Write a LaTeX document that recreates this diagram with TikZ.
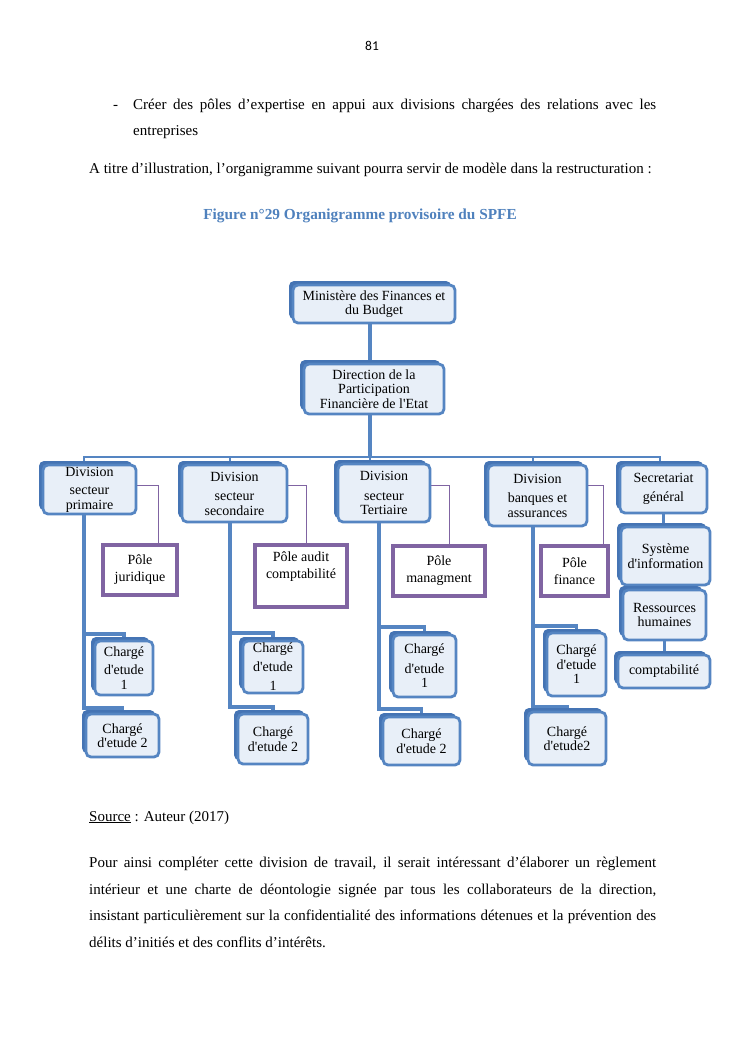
\documentclass[tikz,border=0pt]{standalone}
\usepackage{fontspec}
\setmainfont{Liberation Serif}
\newfontfamily\calibrifont{Carlito}
\usetikzlibrary{shadows,backgrounds}
\definecolor{bxblue}{HTML}{5585C2}
\definecolor{bxshadow}{HTML}{4574B4}
\definecolor{bxfill}{HTML}{E8EFF8}
\definecolor{plum}{HTML}{8064A2}
\definecolor{ttlblue}{HTML}{4F81BD}
\newcommand{\ap}{\textquotesingle}
\tikzset{
  bbox/.style={draw=bxblue, line width=2.8pt, fill=bxfill, rounded corners=5pt,
    align=center, inner sep=0pt, font=\fontsize{14}{14.5}\selectfont,
    drop shadow={shadow xshift=-4pt, shadow yshift=4pt, fill=bxshadow, opacity=1}},
  pbox/.style={draw=plum, line width=3.2pt, fill=white, align=center, inner sep=0pt,
    font=\fontsize{14}{17}\selectfont},
  conn/.style={draw=bxblue, line width=3.4pt},
  pconn/.style={draw=plum, line width=1pt},
  body/.style={font=\fontsize{15}{18}\selectfont, inner sep=0pt, anchor=base west},
}
\begin{document}
\begin{tikzpicture}[x=1pt,y=-1pt]
\useasboundingbox (0,0) rectangle (745,1053);
\begin{scope}[on background layer]
  \fill[white] (0,0) rectangle (745,1053);
\end{scope}

% page text
\node[inner sep=0pt, anchor=base, font=\calibrifont\fontsize{13.5}{16}\selectfont] (pnum) at (372,50) {81};
\node[body] (dash) at (113,109) {-};
\node[body] (l1) at (133,109) {\makebox[523pt][s]{Créer des pôles d’expertise en appui aux divisions chargées des relations avec les}};
\node[body] (l2) at (133,135) {entreprises};
\node[body] (l3) at (89,173) {A titre d’illustration, l’organigramme suivant pourra servir de modèle dans la restructuration :};
\node[inner sep=0pt, anchor=base, text=ttlblue, font=\bfseries\fontsize{15.3}{18}\selectfont] (title) at (360,219) {Figure n°29 Organigramme provisoire du SPFE};

\node[body] (src) at (89,821) {\underline{Source} : Auteur (2017)};
\node[body] (p1) at (89,867) {\makebox[567pt][s]{Pour ainsi compléter cette division de travail, il serait intéressant d’élaborer un règlement}};
\node[body] (p2) at (89,894) {\makebox[567pt][s]{intérieur et une charte de déontologie signée par tous les collaborateurs de la direction,}};
\node[body] (p3) at (89,920) {\makebox[567pt][s]{insistant particulièrement sur la confidentialité des informations détenues et la prévention des}};
\node[body] (p4) at (89,947) {délits d’initiés et des conflits d’intérêts.};

% top boxes
\node[bbox, minimum width=162pt, minimum height=38pt] (mini) at (374,304) {Ministère des Finances et\\du Budget};
\node[bbox, minimum width=140pt, minimum height=50pt] (dir) at (374,389) {Direction de la\\Participation\\Financière de l\ap Etat};

% divisions
\node[bbox, minimum width=93pt, minimum height=49pt] (divP) at (89.5,489.5) {Division\\[4pt]secteur\\primaire};
\node[bbox, minimum width=105pt, minimum height=57pt] (divS) at (234.5,493.5) {Division\\[5pt]secteur\\secondaire};
\node[bbox, minimum width=92pt, minimum height=58pt] (divT) at (384,493) {Division\\[5pt]secteur\\Tertiaire};
\node[bbox, minimum width=99pt, minimum height=61pt] (divB) at (537.5,495.5) {Division\\[5pt]banques et\\assurances};
\node[bbox, minimum width=87pt, minimum height=48pt] (sec) at (663.5,489) {Secretariat\\[5pt]général};

% right column
\node[bbox, minimum width=89pt, minimum height=58pt] (sys) at (665.5,556) {Système\\d\ap information};
\node[bbox, minimum width=83pt, minimum height=50pt] (rh) at (664.5,615) {Ressources\\humaines};
\node[bbox, minimum width=92pt, minimum height=33pt] (cpt) at (664,671.5) {comptabilité};

% poles
\node[pbox, minimum width=74pt, minimum height=50pt] (poleJ) at (140,570) {Pôle\\juridique};
\node[pbox, minimum width=92pt, minimum height=62pt] (poleA) at (301,576) {Pôle audit\\comptabilité\\\strut};
\node[pbox, minimum width=92pt, minimum height=50pt] (poleM) at (439,571) {Pôle\\managment};
\node[pbox, minimum width=67pt, minimum height=50pt] (poleF) at (574.5,571) {Pôle\\finance};

% charges
\node[bbox, minimum width=58pt, minimum height=54pt] (chP1) at (124,668) {Chargé\\[4pt]d\ap etude\\1};
\node[bbox, minimum width=73pt, minimum height=43pt] (chP2) at (122.5,735.5) {Chargé\\d\ap etude 2};
\node[bbox, minimum width=60pt, minimum height=52pt] (chS1) at (273,667) {Chargé\\[4pt]d\ap etude\\[5pt]1};
\node[bbox, minimum width=70pt, minimum height=50pt] (chS2) at (273,739) {Chargé\\d\ap etude 2};
\node[bbox, minimum width=63pt, minimum height=62pt] (chT1) at (424.5,666) {Chargé\\[5pt]d\ap etude\\1};
\node[bbox, minimum width=77pt, minimum height=48pt] (chT2) at (421.5,741) {Chargé\\d\ap etude 2};
\node[bbox, minimum width=59pt, minimum height=63pt] (chB1) at (576.5,664.5) {Chargé\\d\ap etude\\1};
\node[bbox, minimum width=78pt, minimum height=53pt] (chB2) at (567,738.5) {Chargé\\d\ap etude2};

% junction coordinates
\coordinate (bL) at (84,457);
\coordinate (bS) at (230,457);
\coordinate (bC) at (370,457);
\coordinate (bB) at (533,457);
\coordinate (bR) at (660,457);
\coordinate (cP1) at (84,634);  \coordinate (cP2) at (84,708);
\coordinate (cS1) at (230,633); \coordinate (cS2) at (230,707);
\coordinate (cT1) at (379,627); \coordinate (cT2) at (379,709);
\coordinate (cB1) at (533,626); \coordinate (cB2) at (533,707);
\coordinate (kJ) at (158,485);
\coordinate (kA) at (306,485);
\coordinate (kM) at (449,485);
\coordinate (kF) at (603,485);

\begin{scope}[on background layer]
  \draw[conn] (mini.south -| bC) -- (dir.north -| bC);
  \draw[conn] (dir.south -| bC) -- (bC);
  \draw[conn, line width=2.6pt] (bL |- divP.north) -- (bL) -- (bR) -- (bR |- sec.north);
  \draw[conn, line width=2.6pt] (bS) -- (bS |- divS.north);
  \draw[conn, line width=2.6pt] (bC) -- (bC |- divT.north);
  \draw[conn, line width=2.6pt] (bB) -- (bB |- divB.north);
  % columns
  \draw[conn] (divP.south -| cP1) -- (cP2) -- (cP2 -| chP2.north) -- (chP2.north);
  \draw[conn] (cP1) -- (cP1 -| chP1.north) -- (chP1.north);
  \draw[conn] (divS.south -| cS1) -- (cS2) -- (cS2 -| chS2.north) -- (chS2.north);
  \draw[conn] (cS1) -- (cS1 -| chS1.north) -- (chS1.north);
  \draw[conn] (divT.south -| cT1) -- (cT2) -- (cT2 -| chT2.north) -- (chT2.north);
  \draw[conn] (cT1) -- (cT1 -| chT1.north) -- (chT1.north);
  \draw[conn] (divB.south -| cB1) -- (cB2) -- (cB2 -| chB2.north) -- (chB2.north);
  \draw[conn] (cB1) -- (cB1 -| chB1.north) -- (chB1.north);
  % right column
  \draw[conn] (sec.south) -- (sec.south |- sys.north);
  \draw[conn] (sys.south -| rh.north) -- (rh.north);
  \draw[conn] (rh.south) -- (rh.south |- cpt.north);
  % poles
  \draw[pconn] (divP.east |- kJ) -- (kJ) -- (kJ |- poleJ.north);
  \draw[pconn] (divS.east |- kA) -- (kA) -- (kA |- poleA.north);
  \draw[pconn] (divT.east |- kM) -- (kM) -- (kM |- poleM.north);
  \draw[pconn] (divB.east |- kF) -- (kF) -- (kF |- poleF.north);
\end{scope}
\end{tikzpicture}
\end{document}
